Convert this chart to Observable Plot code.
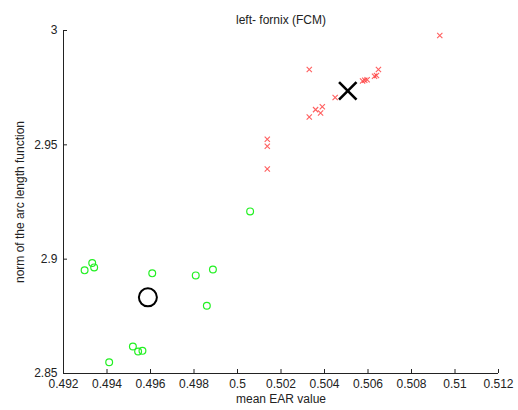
<!DOCTYPE html>
<html>
<head>
<meta charset="utf-8">
<script src="https://cdn.jsdelivr.net/npm/d3@7"></script>
<script src="https://cdn.jsdelivr.net/npm/@observablehq/plot@0.6"></script>
<style>
  html, body { margin: 0; padding: 0; background: white; }
</style>
</head>
<body>
<div id="chart"></div>
<script>
// Data
const greenX = [0.50058, 0.49332, 0.49341, 0.49297, 0.49608, 0.49808, 0.49887, 0.49859, 0.49519, 0.49543, 0.49563, 0.49410];
const greenY = [2.9209, 2.8983, 2.8964, 2.8951, 2.8938, 2.8929, 2.8955, 2.8796, 2.8618, 2.8596, 2.8599, 2.8549];
const redX = [0.50330, 0.50137, 0.50137, 0.50137, 0.50330, 0.50930, 0.50359, 0.50390, 0.50382, 0.50449, 0.50575, 0.50585, 0.50596, 0.50630, 0.50639, 0.50648];
const redY = [2.9829, 2.9524, 2.9494, 2.9394, 2.9622, 2.9978, 2.9654, 2.9667, 2.9639, 2.9707, 2.9779, 2.9782, 2.9785, 2.9800, 2.9803, 2.9829];
const greenCenterX = [0.49588];
const greenCenterY = [2.8833];
const redCenterX = [0.50507];
const redCenterY = [2.9736];
const xTicks = [0.492, 0.494, 0.496, 0.498, 0.5, 0.502, 0.504, 0.506, 0.508, 0.51, 0.512];
const yTicks = [2.85, 2.9, 2.95, 3];
const titleText = "left- fornix (FCM)";
const xLabel = "mean EAR value";
const yLabel = "norm of the arc length function";

const green = greenX.map((x, i) => ({x, y: greenY[i]}));
const red = redX.map((x, i) => ({x, y: redY[i]}));
const gc = greenCenterX.map((x, i) => ({x, y: greenCenterY[i]}));
const rc = redCenterX.map((x, i) => ({x, y: redCenterY[i]}));
const fmt = d3.format("~g");

const chart = Plot.plot({
  width: 518,
  height: 410,
  marginLeft: 63,
  marginRight: 20,
  marginTop: 30,
  marginBottom: 37,
  x: {domain: [0.492, 0.512]},
  y: {domain: [2.85, 3]},
  style: {fontFamily: "'Liberation Sans', Arial, sans-serif", fontSize: "12px", background: "white", color: "#222"},
  marks: [
    Plot.ruleX([0.492], {stroke: "#222", strokeWidth: 1}),
    Plot.ruleY([2.85], {stroke: "#222", strokeWidth: 1}),
    Plot.axisX(xTicks, {tickSize: -4, text: null, label: null, stroke: "#222"}),
    Plot.axisX(xTicks, {tickSize: 0, tickPadding: 6, tickFormat: fmt, label: null, fill: "#222", letterSpacing: "0.4px"}),
    Plot.axisY(yTicks, {tickSize: -4, text: null, label: null, stroke: "#222"}),
    Plot.axisY(yTicks, {tickSize: 0, tickPadding: 6, tickFormat: fmt, label: null, fill: "#222", letterSpacing: "0.3px"}),
    Plot.dot(green, {x: "x", y: "y", r: 3.4, stroke: "#22f022", strokeWidth: 1.2}),
    Plot.dot(red, {x: "x", y: "y", symbol: "times", r: 2.5, stroke: "#ff2a2a", strokeOpacity: 0.75, strokeWidth: 1.1}),
    Plot.dot(gc, {x: "x", y: "y", r: 9, stroke: "black", strokeWidth: 2}),
    Plot.dot(rc, {x: "x", y: "y", symbol: "times", r: 8, stroke: "black", strokeWidth: 2.6}),
    Plot.text([titleText], {frameAnchor: "top", dy: -15, fontSize: 12, fill: "#222", letterSpacing: "0.3px"}),
    Plot.text([xLabel], {frameAnchor: "bottom", dy: 29, fontSize: 12, fill: "#222"}),
    Plot.text([yLabel], {frameAnchor: "left", textAnchor: "middle", dx: -43, rotate: -90, fontSize: 12, fill: "#222", letterSpacing: "0.8px"})
  ]
});
document.getElementById("chart").appendChild(chart);
</script>
</body>
</html>
